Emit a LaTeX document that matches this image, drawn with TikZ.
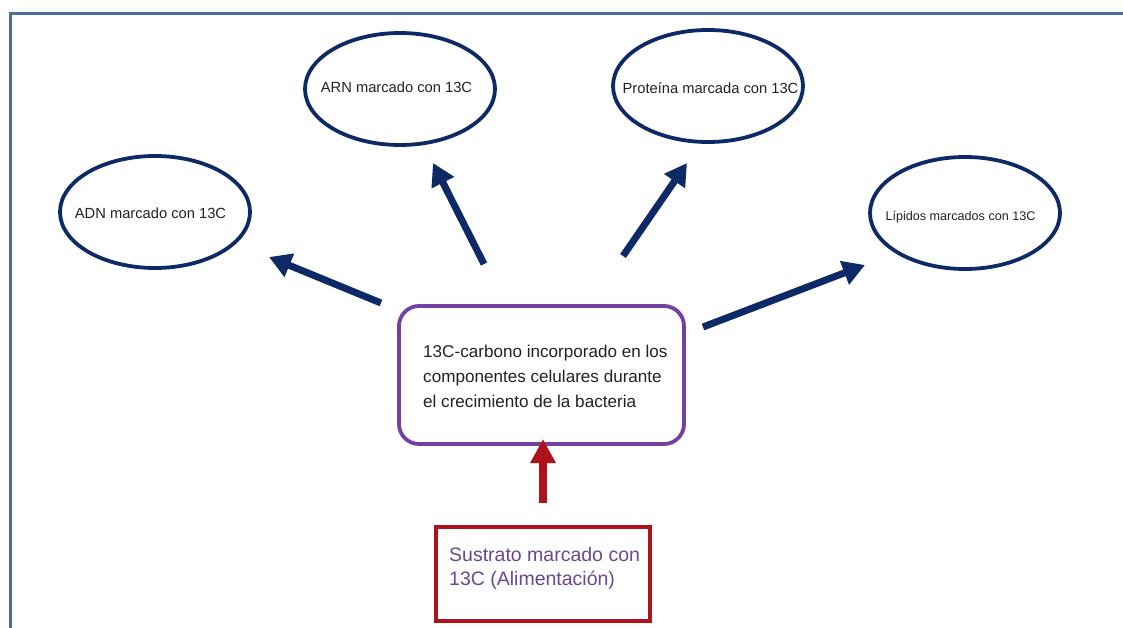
\documentclass[tikz,border=0pt]{standalone}
\usepackage{fontspec}
\setmainfont{Liberation Sans}
\usetikzlibrary{shapes.geometric,arrows.meta}
\definecolor{navy}{HTML}{0E2A66}
\definecolor{frameblue}{HTML}{4D6F95}
\definecolor{boxpurple}{HTML}{7440A2}
\definecolor{txtpurple}{HTML}{6A4893}
\definecolor{darkred}{HTML}{B0121B}
\definecolor{txtgray}{HTML}{222222}
\tikzset{
  oval/.style={ellipse, draw=navy, line width=3.8pt, minimum width=190pt, minimum height=112pt, inner sep=0pt, text=txtgray},
  ovaltext/.style={inner sep=0pt, text=txtgray},
  navyarrow/.style={draw=navy, line width=7pt, -{Triangle[length=22pt,width=24pt]}},
  redarrow/.style={draw=darkred, line width=8pt, -{Triangle[length=24pt,width=24pt]}},
  centerbox/.style={draw=boxpurple, line width=3.8pt, rounded corners=20pt, minimum width=285pt, minimum height=138pt, inner sep=0pt},
  feedbox/.style={draw=darkred, line width=4.5pt, minimum width=214pt, minimum height=94pt, inner sep=0pt},
}
\begin{document}
\begin{tikzpicture}[x=1pt,y=-1pt]
\useasboundingbox (0,0) rectangle (1123,628);
\fill[white] (0,0) rectangle (1123,628);
\draw[frameblue, line width=3pt] (10,630) -- (10,14) -- (1125,14);

\node[oval] (adn) at (155,212) {};
\node[oval] (arn) at (400,89) {};
\node[oval] (prot) at (708,86) {};
\node[oval] (lip) at (965,213) {};
\node[ovaltext, font=\fontsize{14.7}{17}\selectfont] (adnt) at (150.5,213) {ADN marcado con 13C};
\node[ovaltext, font=\fontsize{14.7}{17}\selectfont] (arnt) at (396.5,87) {ARN marcado con 13C};
\node[ovaltext, font=\fontsize{14.7}{17}\selectfont] (prott) at (710.5,88) {Proteína marcada con 13C};
\node[ovaltext, font=\fontsize{12.6}{15}\selectfont] (lipt) at (960.5,217) {Lípidos marcados con 13C};

\node[centerbox] (center) at (541.5,375) {};
\node[anchor=north west, inner sep=0pt, align=left, text=txtgray, font=\fontsize{17.1}{25}\selectfont] (ctext) at (423,345) {13C-carbono incorporado en los\\componentes celulares durante\\el crecimiento de la bacteria};

\node[feedbox] (feed) at (543,574) {};
\node[anchor=north west, inner sep=0pt, align=left, text=txtpurple, font=\fontsize{19.5}{24}\selectfont] (ftext) at (449,547) {Sustrato marcado con\\13C (Alimentación)};

\coordinate (a1s) at (381,303); \coordinate (a1e) at (269,257);
\coordinate (a2s) at (484,264); \coordinate (a2e) at (433,163);
\coordinate (a3s) at (623,256); \coordinate (a3e) at (687,163);
\coordinate (a4s) at (703,327); \coordinate (a4e) at (865,265);
\coordinate (rs) at (543,503); \coordinate (re) at (543,439);

\draw[navyarrow] (a1s) -- (a1e);
\draw[navyarrow] (a2s) -- (a2e);
\draw[navyarrow] (a3s) -- (a3e);
\draw[navyarrow] (a4s) -- (a4e);
\draw[redarrow] (rs) -- (re);
\end{tikzpicture}
\end{document}
